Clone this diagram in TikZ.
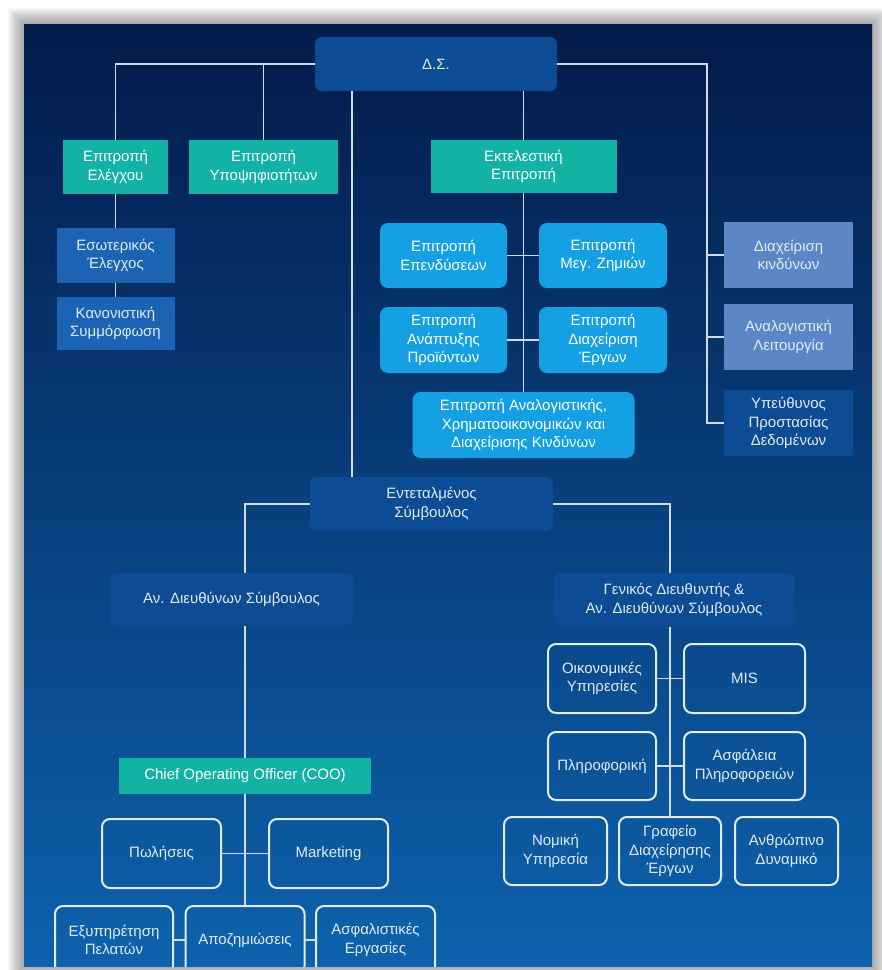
\documentclass[tikz,border=0pt]{standalone}
\usepackage{fontspec}
\setmainfont{Liberation Sans}
\definecolor{teal1}{HTML}{12B2A4}
\definecolor{dsblue}{HTML}{0B4C95}
\definecolor{midblue}{HTML}{1B63B3}
\definecolor{lblue}{HTML}{14A0E2}
\definecolor{lav}{HTML}{5C87C7}
\definecolor{linec}{HTML}{D3DBEA}
\definecolor{txt}{HTML}{E2EBF7}
\definecolor{bgtop}{HTML}{031B4A}
\definecolor{bgmid}{HTML}{053A7C}
\definecolor{bgbot}{HTML}{0D62AD}
\tikzset{
 base/.style={align=center, text=txt, font=\fontsize{15}{18.5}\selectfont, inner sep=0pt, outer sep=0pt},
 tealbox/.style={base, fill=teal1, text=white},
 dsbox/.style={base, fill=dsblue, rounded corners=7pt},
 midbox/.style={base, fill=midblue},
 lbbox/.style={base, fill=lblue, rounded corners=8pt, text=white},
 lavbox/.style={base, fill=lav},
 darkbox/.style={base, fill=dsblue},
 outbox/.style={base, draw=txt, line width=2pt, rounded corners=8pt},
 conn/.style={draw=linec, line width=1.8pt},
}
\newcommand\mybox[7]{\node[#2, minimum width=#5pt, minimum height=#6pt] (#1) at (#3,#4) {#7};}
\begin{document}
\begin{tikzpicture}[x=1pt,y=-1pt]
\useasboundingbox (0,0) rectangle (882,970);
\fill[white] (0,0) rectangle (882,970);
\foreach \i in {1,...,16} \fill[black!60, opacity=0.045] (24-\i,24-\i) rectangle (872+\i,966+\i);
\shade[top color=bgtop, middle color=bgmid, bottom color=bgbot] (24,24) rectangle (872,966);
\begin{scope}
\clip (24,24) rectangle (872,966);
% top level
\mybox{ds}{dsbox}{436}{64}{242}{54}{Δ.Σ.}
\mybox{ele}{tealbox}{115.5}{167}{105}{54}{Επιτροπή\\Ελέγχου}
\mybox{ypo}{tealbox}{263.5}{167}{149}{54}{Επιτροπή\\Υποψηφιοτήτων}
\mybox{ekt}{tealbox}{523.5}{166.5}{186}{53}{Εκτελεστική\\Επιτροπή}
\mybox{eso}{midbox}{115.5}{255.5}{118}{55}{Εσωτερικός\\Έλεγχος}
\mybox{kan}{midbox}{115.5}{323.5}{118}{53}{Κανονιστική\\Συμμόρφωση}
\mybox{epe}{lbbox}{443.5}{255.5}{127}{65}{Επιτροπή\\Επενδύσεων}
\mybox{meg}{lbbox}{603}{255.5}{128}{65}{Επιτροπή\\Μεγ. Ζημιών}
\mybox{ana}{lbbox}{443.5}{340}{127}{66}{Επιτροπή\\Ανάπτυξης\\Προϊόντων}
\mybox{dia}{lbbox}{603}{340}{128}{66}{Επιτροπή\\Διαχείριση\\Έργων}
\mybox{anl}{lbbox}{523.5}{425}{222}{66}{Επιτροπή Αναλογιστικής,\\Χρηματοοικονομικών και\\Διαχείρισης Κινδύνων}
\mybox{kin}{lavbox}{788.5}{255}{129}{66}{Διαχείριση\\κινδύνων}
\mybox{leit}{lavbox}{788.5}{337}{129}{66}{Αναλογιστική\\Λειτουργία}
\mybox{ypeu}{darkbox}{788.5}{423}{129}{66}{Υπεύθυνος\\Προστασίας\\Δεδομένων}
% middle
\mybox{ent}{dsbox}{431.5}{504}{243}{54}{Εντεταλμένος\\Σύμβουλος}
\mybox{anD}{dsbox}{231.5}{599.5}{243}{53}{Αν. Διευθύνων Σύμβουλος}
\mybox{gen}{dsbox}{674}{600}{242}{54}{Γενικός Διευθυντής \&\\Αν. Διευθύνων Σύμβουλος}
% right branch
\mybox{oik}{outbox}{602}{678.5}{108}{69}{Οικονομικές\\Υπηρεσίες}
\mybox{mis}{outbox}{744.5}{678.5}{121}{69}{MIS}
\mybox{plir}{outbox}{602}{766}{108}{68}{Πληροφορική}
\mybox{asf}{outbox}{744.5}{766}{121}{68}{Ασφάλεια\\Πληροφορειών}
\mybox{nom}{outbox}{555.5}{851}{103}{68}{Νομική\\Υπηρεσία}
\mybox{gra}{outbox}{670}{851}{102}{68}{Γραφείο\\Διαχείρησης\\Έργων}
\mybox{anth}{outbox}{786.5}{851}{103}{68}{Ανθρώπινο\\Δυναμικό}
% left branch
\mybox{coo}{tealbox}{245}{776}{252}{36}{Chief Operating Officer (COO)}
\mybox{pol}{outbox}{161.5}{853.5}{119}{69}{Πωλήσεις}
\mybox{mar}{outbox}{328.5}{853.5}{119}{69}{Marketing}
\mybox{exy}{outbox}{114}{940}{118}{68}{Εξυπηρέτηση\\Πελατών}
\mybox{apo}{outbox}{245}{940}{119}{68}{Αποζημιώσεις}
\mybox{asfe}{outbox}{375.5}{940}{119}{68}{Ασφαλιστικές\\Εργασίες}
% connectors
\coordinate (rv) at (707,423);
\draw[conn] (ds.west) -| (ele.north);
\draw[conn] (ds.west) -| (ypo.north);
\draw[conn] (ds.east) -| (rv) -- (ypeu.west);
\draw[conn] (kin.west) -- (kin.west -| rv);
\draw[conn] (leit.west) -- (leit.west -| rv);
\draw[conn] (ds.south -| ekt.north) -- (ekt.north);
\draw[conn] (ekt.south) -- (anl.north);
\draw[conn] (epe.east) -- (meg.west);
\draw[conn] (ana.east) -- (dia.west);
\draw[conn] (ele.south) -- (eso.north);
\draw[conn] (eso.south) -- (kan.north);
\draw[conn] ([xshift=-84pt]ds.south) -- ([xshift=-79.5pt]ent.north);
\draw[conn] (ent.west) -| ([xshift=13.5pt]anD.north);
\draw[conn] (ent.east) -| ([xshift=-4pt]gen.north);
\draw[conn] ([xshift=13.5pt]anD.south) -- (coo.north);
\draw[conn] (coo.south) -- (apo.north);
\draw[conn] (pol.east) -- (mar.west);
\draw[conn] (exy.east) -- (apo.west);
\draw[conn] (apo.east) -- (asfe.west);
\draw[conn] ([xshift=-4pt]gen.south) -- (gra.north);
\draw[conn] (oik.east) -- (mis.west);
\draw[conn] (plir.east) -- (asf.west);
\end{scope}
\end{tikzpicture}
\end{document}
